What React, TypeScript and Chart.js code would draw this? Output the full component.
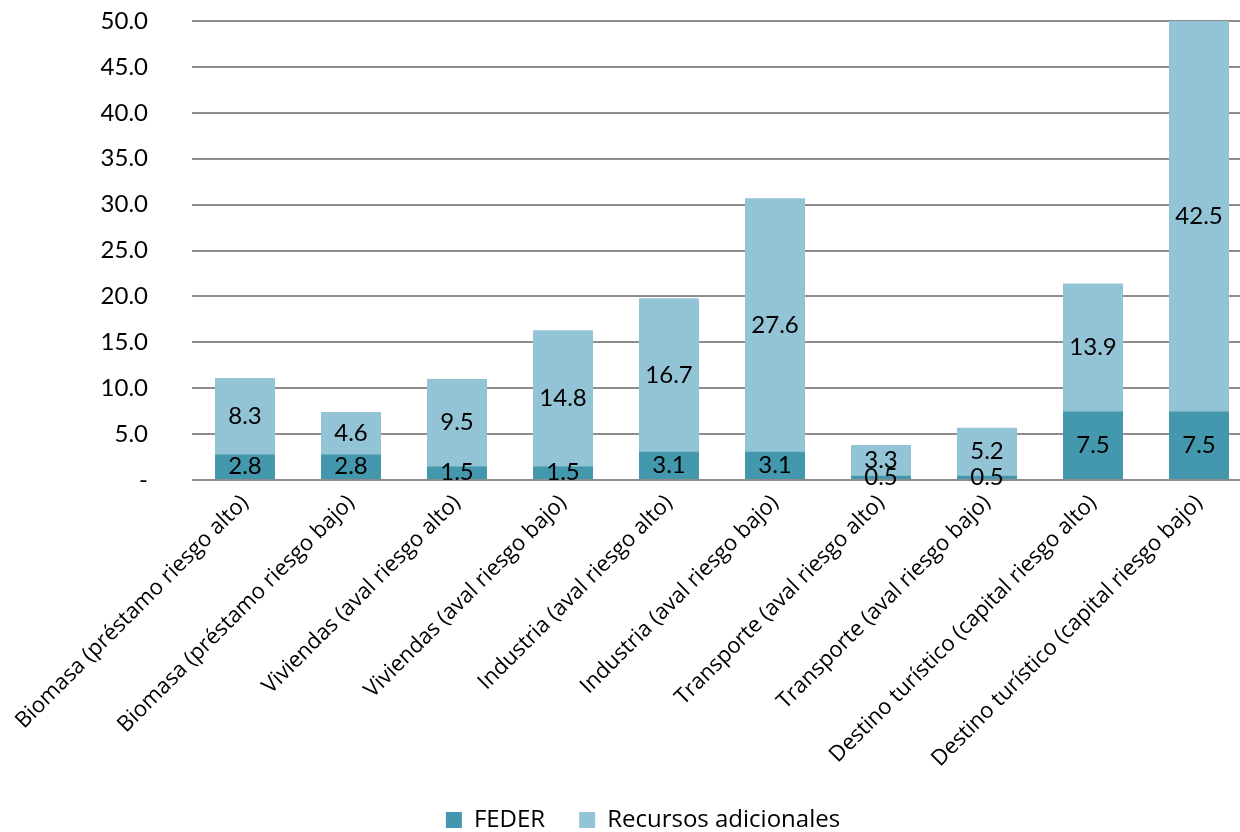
import React, { useEffect, useRef } from "react";
import { Chart, registerables } from "chart.js";

Chart.register(...registerables);

const categories = [
  "Biomasa (préstamo riesgo alto)",
  "Biomasa (préstamo riesgo bajo)",
  "Viviendas (aval riesgo alto)",
  "Viviendas (aval riesgo bajo)",
  "Industria (aval riesgo alto)",
  "Industria (aval riesgo bajo)",
  "Transporte (aval riesgo alto)",
  "Transporte (aval riesgo bajo)",
  "Destino turístico (capital riesgo alto)",
  "Destino turístico (capital riesgo bajo)",
];
const feder = [2.8, 2.8, 1.5, 1.5, 3.1, 3.1, 0.5, 0.5, 7.5, 7.5];
const recursos = [8.3, 4.6, 9.5, 14.8, 16.7, 27.6, 3.3, 5.2, 13.9, 42.5];
const yTicks = [0, 5, 10, 15, 20, 25, 30, 35, 40, 45, 50];

const labelPlugin = {
  id: "barLabels",
  afterDatasetsDraw(chart: any) {
    const ctx = chart.ctx;
    ctx.save();
    ctx.font = "24px Lato";
    ctx.fillStyle = "#000";
    ctx.textAlign = "center";
    ctx.textBaseline = "middle";
    chart.data.datasets.forEach((ds: any, di: number) => {
      const meta = chart.getDatasetMeta(di);
      meta.data.forEach((bar: any, i: number) => {
        const y = (bar.y + bar.base) / 2;
        ctx.fillText(Number(ds.data[i]).toFixed(1), bar.x, y);
      });
    });
    ctx.restore();
  },
};

export default function App() {
  const ref = useRef<HTMLCanvasElement>(null);
  useEffect(() => {
    document.body.style.margin = "0";
    const chart = new Chart(ref.current!, {
      type: "bar",
      data: {
        labels: categories,
        datasets: [
          { label: "FEDER", data: feder, backgroundColor: "#4398ae", barPercentage: 0.566, categoryPercentage: 1 },
          { label: "Recursos adicionales", data: recursos, backgroundColor: "#93c4d6", barPercentage: 0.566, categoryPercentage: 1 },
        ],
      },
      options: {
        animation: false,
        responsive: false,
        layout: { padding: { top: 21, right: 0, left: 34, bottom: -10 } },
        plugins: {
          legend: {
            position: "bottom",
            labels: { font: { family: "Open Sans", size: 24 }, color: "#000", boxWidth: 16, boxHeight: 16, padding: 34 },
          },
          tooltip: { enabled: false },
        },
        scales: {
          x: {
            stacked: true,
            grid: { display: false },
            border: { display: false },
            ticks: {
              font: { family: "Open Sans", size: 22 },
              color: "#000",
              minRotation: 45,
              maxRotation: 45,
              padding: 2,
              autoSkip: false,
            },
            afterFit: (axis: any) => {
              axis.paddingLeft = 0;
              axis.paddingRight = 0;
              axis.paddingTop = 0;
              axis.paddingBottom = 0;
              axis.height = 294;
            },
          },
          y: {
            stacked: true,
            min: 0,
            max: 50,
            afterBuildTicks: (axis: any) => {
              axis.ticks = yTicks.map((v) => ({ value: v }));
            },
            grid: { color: "#8c8c8c", lineWidth: 2, drawTicks: false },
            border: { display: false },
            ticks: {
              font: { family: "Lato", size: 24 },
              color: "#000",
              padding: 44,
              callback: (v: any) => (Number(v) === 0 ? "-" : Number(v).toFixed(1)),
            },
            afterFit: (axis: any) => {
              axis.width = 158;
              axis.paddingTop = 0;
              axis.paddingBottom = 0;
            },
          },
        },
      },
      plugins: [labelPlugin],
    });
    return () => chart.destroy();
  }, []);
  return (
    <div style={{ width: 1240, height: 832, overflow: "hidden" }}>
      <canvas ref={ref} width={1252} height={832} style={{ display: "block" }} />
    </div>
  );
}
